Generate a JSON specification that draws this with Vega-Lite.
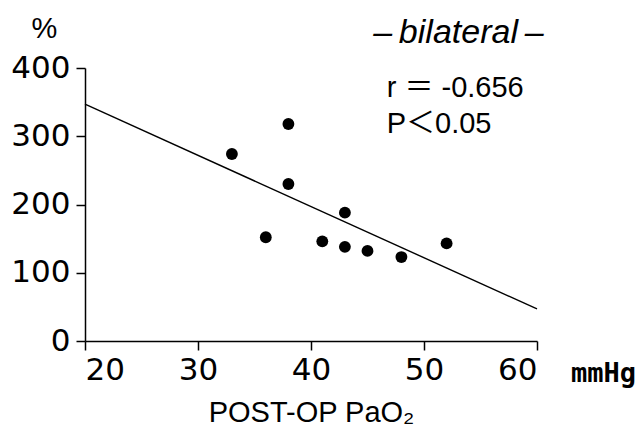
{
  "$schema": "https://vega.github.io/schema/vega-lite/v6.json",
  "width": 452,
  "height": 273,
  "autosize": {"type": "none"},
  "padding": {"left": 85, "top": 68, "right": 103, "bottom": 87},
  "background": "white",
  "config": {"view": {"stroke": null}, "font": "Liberation Sans, Noto Sans CJK JP"},
  "datasets": {
    "points": [
      {"pao2": 33, "pct": 274},
      {"pao2": 36, "pct": 152},
      {"pao2": 38, "pct": 318},
      {"pao2": 38, "pct": 230},
      {"pao2": 41, "pct": 146},
      {"pao2": 43, "pct": 188},
      {"pao2": 43, "pct": 138},
      {"pao2": 45, "pct": 132},
      {"pao2": 48, "pct": 123},
      {"pao2": 52, "pct": 143}
    ],
    "fit": [
      {"pao2": 20, "pct": 347},
      {"pao2": 60, "pct": 47}
    ]
  },
  "layer": [
    {
      "data": {"name": "fit"},
      "mark": {"type": "line", "color": "black", "strokeWidth": 1.4},
      "encoding": {
        "x": {
          "field": "pao2", "type": "quantitative",
          "scale": {"domain": [20, 60], "nice": false, "zero": false},
          "axis": {
            "values": [20, 30, 40, 50, 60],
            "grid": false,
            "domainColor": "black", "domainWidth": 1.5,
            "tickColor": "black", "tickWidth": 1.5, "tickSize": 9,
            "labelFontSize": 31, "labelColor": "black", "labelPadding": 5,
            "labelFont": "DejaVu Sans",
            "title": "POST-OP PaO₂",
            "titleFont": "Liberation Sans",
            "titleFontSize": 29, "titleFontWeight": "normal", "titleColor": "black",
            "titleBaseline": "alphabetic", "titleAlign": "center",
            "titleX": 226, "titleY": 80
          }
        },
        "y": {
          "field": "pct", "type": "quantitative",
          "scale": {"domain": [0, 400], "nice": false},
          "axis": {
            "values": [0, 100, 200, 300, 400],
            "grid": false,
            "domainColor": "black", "domainWidth": 1.5,
            "tickColor": "black", "tickWidth": 1.5, "tickSize": 9,
            "labelFontSize": 31, "labelColor": "black", "labelPadding": 6,
            "labelFont": "DejaVu Sans",
            "title": "%",
            "titleFont": "Liberation Sans",
            "titleFontSize": 29, "titleFontWeight": "normal", "titleColor": "black",
            "titleAngle": 0, "titleBaseline": "alphabetic", "titleAlign": "center",
            "titleX": -41, "titleY": -31
          }
        }
      }
    },
    {
      "data": {"name": "points"},
      "mark": {"type": "circle", "color": "black", "opacity": 1, "size": 140},
      "encoding": {
        "x": {"field": "pao2", "type": "quantitative"},
        "y": {"field": "pct", "type": "quantitative"}
      }
    },
    {
      "data": {"values": [{"label": "mmHg"}]},
      "mark": {"type": "text", "font": "DejaVu Sans Mono", "fontWeight": "bold", "fontSize": 27, "align": "left", "baseline": "alphabetic", "color": "black", "clip": false},
      "encoding": {
        "x": {"datum": 63.0, "type": "quantitative"},
        "y": {"datum": -60, "type": "quantitative"},
        "text": {"field": "label"}
      }
    },
    {
      "data": {"values": [{"label": "–\u2009bilateral\u2009–"}]},
      "mark": {"type": "text", "font": "Liberation Sans", "fontStyle": "italic", "fontSize": 34, "align": "left", "baseline": "alphabetic", "color": "black", "clip": false},
      "encoding": {
        "x": {"datum": 45.5, "type": "quantitative"},
        "y": {"datum": 436.6, "type": "quantitative"},
        "text": {"field": "label"}
      }
    },
    {
      "data": {"values": [{"label": "r ＝ -0.656"}]},
      "mark": {"type": "text", "fontSize": 29, "align": "left", "baseline": "alphabetic", "color": "black", "clip": false},
      "encoding": {
        "x": {"datum": 46.7, "type": "quantitative"},
        "y": {"datum": 357.5, "type": "quantitative"},
        "text": {"field": "label"}
      }
    },
    {
      "data": {"values": [{"label": "P＜0.05"}]},
      "mark": {"type": "text", "fontSize": 29, "align": "left", "baseline": "alphabetic", "color": "black", "clip": false},
      "encoding": {
        "x": {"datum": 46.7, "type": "quantitative"},
        "y": {"datum": 304.8, "type": "quantitative"},
        "text": {"field": "label"}
      }
    }
  ]
}
